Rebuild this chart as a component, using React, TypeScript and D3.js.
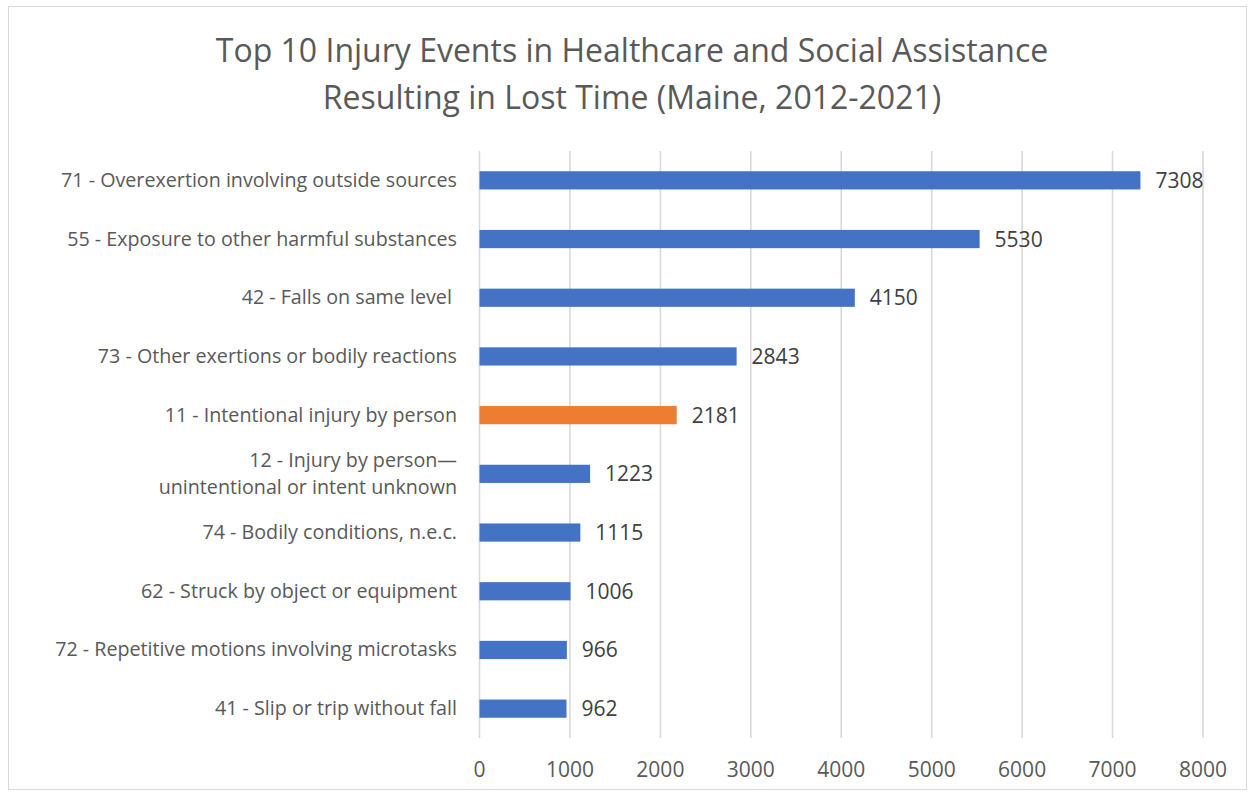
import React from "react";
import * as d3 from "d3";

const categories: string[][] = [
  ["71 - Overexertion involving outside sources"],
  ["55 - Exposure to other harmful substances"],
  ["42 - Falls on same level "],
  ["73 - Other exertions or bodily reactions"],
  ["11 - Intentional injury by person"],
  ["12 - Injury by person\u2014", "unintentional or intent unknown"],
  ["74 - Bodily conditions, n.e.c."],
  ["62 - Struck by object or equipment"],
  ["72 - Repetitive motions involving microtasks"],
  ["41 - Slip or trip without fall"],
];
const values: number[] = [7308, 5530, 4150, 2843, 2181, 1223, 1115, 1006, 966, 962];
const highlighted: boolean[] = [false, false, false, false, true, false, false, false, false, false];
const ticks: number[] = [0, 1000, 2000, 3000, 4000, 5000, 6000, 7000, 8000];
const titleLines: string[] = [
  "Top 10 Injury Events in Healthcare and Social Assistance",
  "Resulting in Lost Time (Maine, 2012-2021)",
];

const W = 1255;
const H = 797;
const FONT = "'Open Sans', sans-serif";

export default function App() {
  const x = d3.scaleLinear().domain([0, 8000]).range([479.5, 1203]);
  const idx = values.map((_, i) => i);
  const y = d3.scaleBand<number>().domain(idx).range([151, 738]).paddingInner(0.69).paddingOuter(0.345);
  const bw = y.bandwidth();
  return (
    <svg width={W} height={H} style={{ position: "absolute", left: 0, top: 0, background: "#fff" }}>
      <rect x={8.5} y={6.5} width={1238} height={783} fill="#fff" stroke="#d9d9d9" strokeWidth={1} />
      {titleLines.map((t, i) => (
        <text key={i} x={632} y={62 + i * 47} textAnchor="middle" fontFamily={FONT} fontSize={32} fill="#595959">
          {t}
        </text>
      ))}
      {ticks.map((t) => (
        <g key={t}>
          <line x1={x(t)} x2={x(t)} y1={151} y2={738} stroke="#d9d9d9" strokeWidth={1.6} />
          <text x={x(t)} y={777} textAnchor="middle" fontFamily={FONT} fontSize={21} fill="#595959">
            {t}
          </text>
        </g>
      ))}
      {idx.map((i) => {
        const yc = (y(i) as number) + bw / 2;
        const lines = categories[i];
        return (
          <g key={i}>
            <rect
              x={x(0)}
              y={y(i)}
              width={x(values[i]) - x(0)}
              height={bw}
              fill={highlighted[i] ? "#ED7D31" : "#4472C4"}
            />
            <text x={x(values[i]) + 15} y={yc + 7.5} fontFamily={FONT} fontSize={21} fill="#404040">
              {values[i]}
            </text>
            {lines.map((l, j) => (
              <text
                key={j}
                x={457}
                y={yc + 6.5 + (j - (lines.length - 1) / 2) * 27}
                textAnchor="end"
                fontFamily={FONT}
                fontSize={19.7}
                fill="#595959"
                style={{ whiteSpace: "pre" }}
              >
                {l}
              </text>
            ))}
          </g>
        );
      })}
    </svg>
  );
}
